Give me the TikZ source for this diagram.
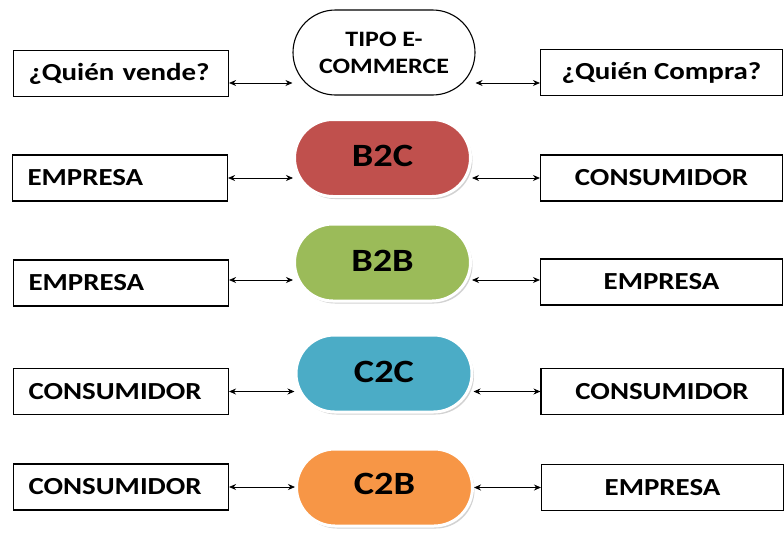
\documentclass[tikz,border=0pt]{standalone}
\usepackage{fontspec}
\usepackage{tikz}
\usetikzlibrary{arrows.meta,positioning,shapes.misc,shadows}
\newfontfamily\calfont{Carlito}[FakeStretch=1.18]
\definecolor{btoc}{HTML}{C0504D}
\definecolor{btob}{HTML}{9BBB59}
\definecolor{ctoc}{HTML}{4BACC6}
\definecolor{ctob}{HTML}{F79646}
\tikzset{
  sidebox/.style={draw=black, fill=white, line width=1.1pt, minimum height=46,
                  inner sep=0pt, font=\calfont\bfseries\fontsize{24.5}{28}\selectfont},
  leftbox/.style={sidebox, text width=185, minimum width=215, align=left, inner xsep=15},
  rightbox/.style={sidebox, minimum width=242, align=center},
  typeoval/.style={rounded rectangle, draw=white, line width=3pt, minimum width=176,
                   minimum height=77, inner sep=0pt,
                   drop shadow={shadow xshift=2pt, shadow yshift=-2.5pt, fill=black!35},
                   font=\calfont\bfseries\fontsize{32.5}{36}\selectfont},
  biarrow/.style={{Stealth[length=7,width=6]}-{Stealth[length=7,width=6]}, line width=0.8pt}
}
\begin{document}
\begin{tikzpicture}[x=1pt,y=-1pt]
  \useasboundingbox (0,0) rectangle (784,533);
  % cabecera
  \node[leftbox] (qv) at (121,73.5) {¿Quién vende?};
  \node[rightbox] (qc) at (661.5,72.5) {¿Quién Compra?};
  \node[rounded rectangle, draw=black, line width=1.1pt, minimum width=182, minimum height=85,
        align=center, inner sep=0pt, font=\calfont\bfseries\fontsize{22}{27}\selectfont]
        (tipo) at (384,52.5) {TIPO E-\\COMMERCE};
  \draw[biarrow] ([yshift=-9.5]qv.east) -- ([yshift=-9.5]qv.east -| tipo.west);
  \draw[biarrow] ([yshift=-10.5]qc.west -| tipo.east) -- ([yshift=-10.5]qc.west);
  % B2C
  \node[leftbox] (e1) at (120,178) {EMPRESA};
  \node[rightbox] (c1) at (661.5,178) {CONSUMIDOR};
  \node[typeoval, fill=btoc] (b2c) at (382.5,158) {\raisebox{4pt}{B2C}};
  \draw[biarrow] (e1.east) -- (e1.east -| b2c.west);
  \draw[biarrow] (c1.west -| b2c.east) -- (c1.west);
  % B2B
  \node[leftbox] (e2) at (121,283) {EMPRESA};
  \node[rightbox] (e3) at (661.5,282) {EMPRESA};
  \node[typeoval, fill=btob] (b2b) at (382.5,262.5) {\raisebox{4pt}{B2B}};
  \draw[biarrow] ([yshift=3]e2.east) -- ([yshift=3]e2.east -| b2b.west);
  \draw[biarrow] ([yshift=2]e3.west -| b2b.east) -- ([yshift=2]e3.west);
  % C2C
  \node[leftbox] (c2) at (121,391.5) {CONSUMIDOR};
  \node[rightbox] (c3) at (662,391.5) {CONSUMIDOR};
  \node[typeoval, fill=ctoc] (c2c) at (384,373.5) {\raisebox{4pt}{C2C}};
  \draw[biarrow] (c2.east) -- (c2.east -| c2c.west);
  \draw[biarrow] (c3.west -| c2c.east) -- (c3.west);
  % C2B
  \node[leftbox] (c4) at (121,487) {CONSUMIDOR};
  \node[rightbox] (e4) at (662.5,487.5) {EMPRESA};
  \node[typeoval, fill=ctob] (c2b) at (384.5,487.5) {\raisebox{7pt}{C2B}};
  \draw[biarrow] (c4.east) -- (c4.east -| c2b.west);
  \draw[biarrow] (e4.west -| c2b.east) -- (e4.west);
\end{tikzpicture}
\end{document}
